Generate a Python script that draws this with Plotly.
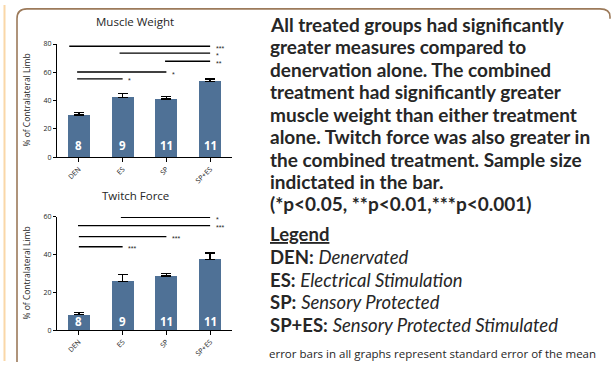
import plotly.graph_objects as go

W, H = 612, 365

groups = ["DEN", "ES", "SP", "SP+ES"]
sample_n = [8, 9, 11, 11]

weight_mean = [29.8, 42.2, 41.2, 53.6]
weight_sem = [1.8, 2.8, 1.6, 1.7]
weight_pairs = [(0, 3), (1, 3), (2, 3), (0, 2), (0, 1)]
weight_levels = [78.4, 73.6, 67.8, 60.2, 55.4]
weight_stars = ["***", "*", "**", "*", "*"]

force_mean = [8.1, 25.8, 28.7, 37.5]
force_sem = [1.2, 3.5, 1.4, 3.4]
force_pairs = [(1, 3), (0, 3), (0, 2), (0, 1)]
force_levels = [59.8, 55.4, 49.6, 44.2]
force_stars = ["*", "***", "***", "***"]

summary_lines = [
    "All treated groups had significantly",
    "greater measures compared to",
    "denervation alone. The combined",
    "treatment had significantly greater",
    "muscle weight than either treatment",
    "alone. Twitch force was also greater in",
    "the combined treatment. Sample size",
    "indictated in the bar.",
    "(*p<0.05, **p<0.01,***p<0.001)",
]
legend_keys = ["DEN", "ES", "SP", "SP+ES"]
legend_names = ["Denervated", "Electrical Stimulation", "Sensory Protected",
                "Sensory Protected Stimulated"]
note = "error bars in all graphs represent standard error of the mean"

BAR = "#4f7196"
INK = "#262626"


def px(x):
    return x / W


def py(y):
    return 1 - y / H


fig = go.Figure()

panels = [
    dict(xa="x", ya="y", mean=weight_mean, sem=weight_sem, pairs=weight_pairs,
         levels=weight_levels, stars=weight_stars, top=40, bottom=156, rng=[0, 80],
         ticks=[0, 20, 40, 60, 80], title="Muscle Weight", ty=17, nlab=0.103,
         starts=[-0.22, -0.07, -0.03, -0.04, -0.04]),
    dict(xa="x2", ya="y2", mean=force_mean, sem=force_sem, pairs=force_pairs,
         levels=force_levels, stars=force_stars, top=217.3, bottom=333.3, rng=[0, 60],
         ticks=[0, 20, 40, 60], title="Twitch Force", ty=195, nlab=0.08,
         starts=[-0.04, -0.02, 0.0, 0.0]),
]

shapes = []
annotations = []
for i, p in enumerate(panels):
    fig.add_trace(go.Bar(
        x=list(range(len(groups))), y=p["mean"], width=0.5,
        marker=dict(color=BAR, line=dict(width=0)),
        error_y=dict(type="data", array=p["sem"], arrayminus=[0] * len(groups),
                     symmetric=False, color="black", thickness=1.3, width=5),
        xaxis=p["xa"], yaxis=p["ya"], showlegend=False, hoverinfo="skip",
    ))
    for (a, b), lev, st, s0 in zip(p["pairs"], p["levels"], p["stars"], p["starts"]):
        shapes.append(dict(type="line", xref=p["xa"], yref=p["ya"], x0=a + s0, x1=b,
                           y0=lev, y1=lev, line=dict(color="black", width=1.3)))
        annotations.append(dict(x=b + 0.08, y=lev, xref=p["xa"], yref=p["ya"],
                                text=st, showarrow=False, xanchor="left", yanchor="middle",
                                yshift=-2, font=dict(size=7, color=INK, family="Arial")))
    for k, n in enumerate(sample_n):
        annotations.append(dict(x=k, y=p["nlab"], xref=p["xa"], yref=p["ya"] + " domain",
                                text="<b>%d</b>" % n, showarrow=False, xanchor="center",
                                yanchor="middle",
                                font=dict(size=11.5, color="white", family="Open Sans")))
    annotations.append(dict(x=px(135), y=py(p["ty"]), xref="paper", yref="paper",
                            text=p["title"], showarrow=False, xanchor="center",
                            yanchor="middle",
                            font=dict(size=11.5, color=INK, family="Open Sans")))
    annotations.append(dict(x=px(27), y=py((p["top"] + p["bottom"]) / 2), xref="paper",
                            yref="paper", text="% of Contralateral Limb", textangle=-90,
                            xanchor="center", yanchor="middle", showarrow=False,
                            font=dict(size=8.5, color=INK, family="Open Sans")))
    axis_common = dict(showline=True, linecolor="black", linewidth=1.3, ticks="outside",
                       tickcolor="black", tickwidth=1.3, showgrid=False, zeroline=False,
                       fixedrange=True)
    xk = "xaxis" if i == 0 else "xaxis2"
    yk = "yaxis" if i == 0 else "yaxis2"
    fig.update_layout(**{
        xk: dict(domain=[px(57), px(232)], range=[-0.5, 3.5], tickvals=[0, 1, 2, 3],
                 ticktext=groups, tickangle=-45, ticklen=4, anchor=p["ya"],
                 tickfont=dict(size=7, color=INK, family="Open Sans"), **axis_common),
        yk: dict(domain=[py(p["bottom"]), py(p["top"])], range=p["rng"], tickvals=p["ticks"],
                 ticklen=3, anchor=p["xa"],
                 tickfont=dict(size=7, color=INK, family="Open Sans"), **axis_common),
    })

TEXT_FONT = "Lato"
for j, line in enumerate(summary_lines):
    annotations.append(dict(x=px(268), y=py(20 + 23 * j), xref="paper", yref="paper",
                            text="<b>%s</b>" % line, showarrow=False, xanchor="left",
                            yanchor="middle", font=dict(size=19, color=INK, family=TEXT_FONT)))
annotations.append(dict(x=px(268), y=py(235), xref="paper", yref="paper",
                        text="<b><u>Legend</u></b>", showarrow=False, xanchor="left",
                        yanchor="middle", font=dict(size=18.5, color=INK, family=TEXT_FONT)))
for j, (k, nm) in enumerate(zip(legend_keys, legend_names)):
    annotations.append(dict(x=px(268), y=py(258 + 23.5 * j), xref="paper", yref="paper",
                            text="<b>%s:</b> <i>%s</i>" % (k, nm), showarrow=False,
                            xanchor="left", yanchor="middle",
                            font=dict(size=18.5, color=INK, family=TEXT_FONT)))
annotations.append(dict(x=px(267), y=py(357), xref="paper", yref="paper", text=note,
                        showarrow=False, xanchor="left", yanchor="middle",
                        font=dict(size=11.5, color=INK, family="Open Sans")))

# decorative frame
border = "M %f %f L %f %f Q %f %f %f %f L %f %f Q %f %f %f %f L %f %f" % (
    px(17), py(366), px(17), py(14), px(17), py(4), px(27), py(4),
    px(600), py(4), px(610), py(4), px(610), py(12), px(610), py(14))
shapes.append(dict(type="path", xref="paper", yref="paper", path=border,
                   line=dict(color="#9c7a5a", width=1.6)))
shapes.append(dict(type="line", xref="paper", yref="paper", x0=px(4.5), x1=px(4.5),
                   y0=0, y1=1, line=dict(color="#fad7a8", width=2)))

fig.update_layout(width=W, height=H, margin=dict(l=0, r=0, t=0, b=0),
                  paper_bgcolor="white", plot_bgcolor="white",
                  shapes=shapes, annotations=annotations, bargap=0)
fig.write_html("out.html", config={"displayModeBar": False},
               post_script="document.body.style.margin='0';")
